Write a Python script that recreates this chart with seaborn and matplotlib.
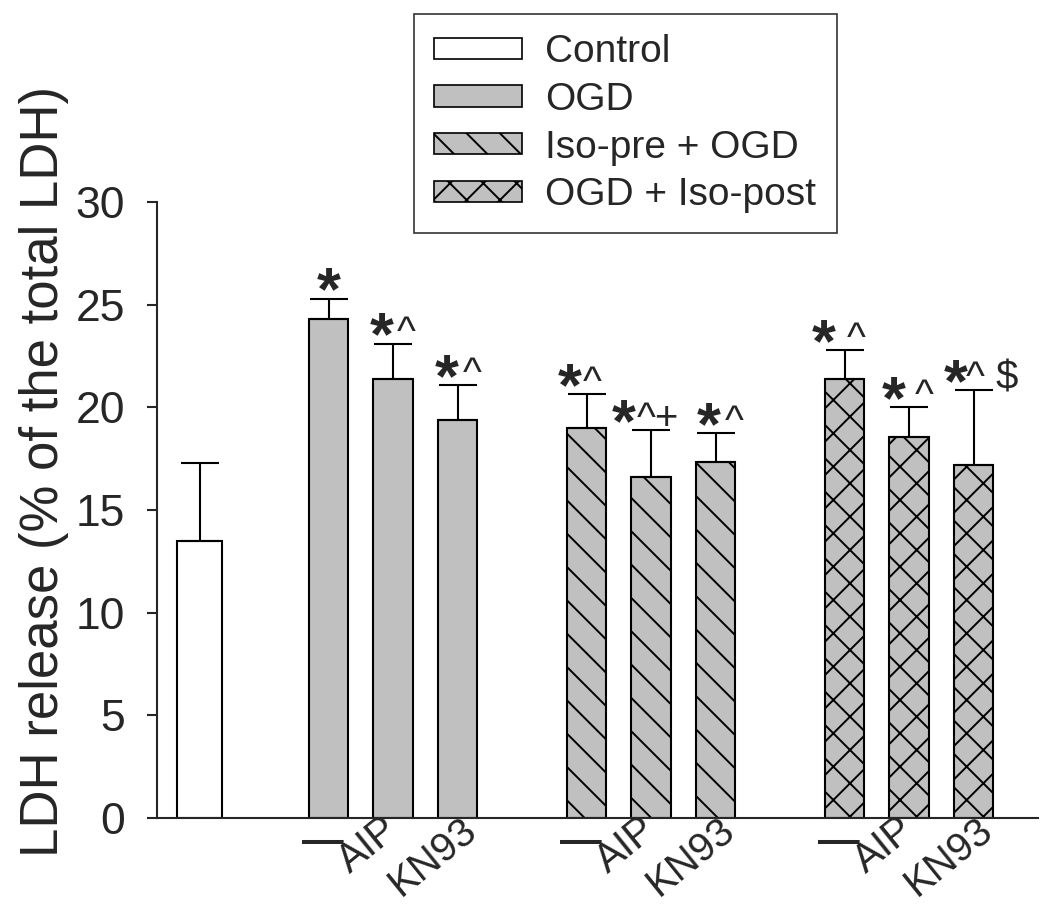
import numpy as np
import pandas as pd
import matplotlib
matplotlib.use('Agg')
import matplotlib.pyplot as plt
from matplotlib.patches import Patch
from matplotlib.transforms import ScaledTranslation
import seaborn as sns

# data
groups = ['Control',
          'OGD', 'OGD', 'OGD',
          'Iso-pre + OGD', 'Iso-pre + OGD', 'Iso-pre + OGD',
          'OGD + Iso-post', 'OGD + Iso-post', 'OGD + Iso-post']
positions = [0, 2, 3, 4, 6, 7, 8, 10, 11, 12]
ldh = [13.5, 24.3, 21.4, 19.4, 19.0, 16.6, 17.35, 21.4, 18.55, 17.2]
sd = [3.8, 1.0, 1.7, 1.7, 1.65, 2.3, 1.4, 1.4, 1.45, 3.65]
stars = ['', '*', '*', '*', '*', '*', '*', '*', '*', '*']
suffix = ['', '', '^', '^', '^', '^+', '^', '^', '^', '^ $']
tick_pos = [2, 3, 4, 6, 7, 8, 10, 11, 12]
tick_labels = ['\u2014', 'AIP', 'KN93'] * 3

# horizontal offsets of the marks from the bar centre (pixels)
star_dx = [0, 0, -11, -11, -17, -27, -7, -21, -15, -18]
suffix_dx = [0, 0, 13, 15, 6, 7, 19, 12, 15, 19]

legend_order = ['Control', 'OGD', 'Iso-pre + OGD', 'OGD + Iso-post']
colors = {'Control': 'white', 'OGD': '#c0c0c0',
          'Iso-pre + OGD': '#c0c0c0', 'OGD + Iso-post': '#c0c0c0'}
hatches = {'Control': '', 'OGD': '', 'Iso-pre + OGD': '\\\\', 'OGD + Iso-post': 'xx'}

df = pd.DataFrame({'pos': positions, 'ldh': ldh, 'sd': sd, 'group': groups})

sns.set_style('ticks')
plt.rcParams['font.family'] = ['Liberation Sans', 'DejaVu Sans']
plt.rcParams['hatch.linewidth'] = 0.7

DPI = 200
PX = 72 / DPI  # points per pixel
fig = plt.figure(figsize=(1050 / DPI, 907 / DPI), dpi=DPI)
ax = fig.add_axes([157 / 1050, 89 / 907, (1038 - 157) / 1050, (818 - 202) / 907])

ctrl = df[df.group == 'Control']
rest = df[df.group != 'Control']
sns.barplot(data=ctrl, x='pos', y='ldh', hue='group', palette=colors, native_scale=True,
            dodge=False, width=0.71, errorbar=None, edgecolor='black', linewidth=0.75,
            legend=False, ax=ax)
sns.barplot(data=rest, x='pos', y='ldh', hue='group', palette=colors, native_scale=True,
            dodge=False, width=0.61, errorbar=None, edgecolor='black', linewidth=0.75,
            legend=False, ax=ax)

pos_arr = np.array(positions)
for p in ax.patches:
    xc = p.get_x() + p.get_width() / 2
    i = int(np.argmin(np.abs(pos_arr - xc)))
    p.set_hatch(hatches[groups[i]])
    p.set_edgecolor('black')

ax.errorbar(df.pos, df.ldh, yerr=[np.zeros(len(df)), df.sd], fmt='none', ecolor='black',
            elinewidth=0.75, capsize=6.8, capthick=0.75, zorder=5)

# significance marks
for x, y, e, s, suf, sdx, fdx in zip(positions, ldh, sd, stars, suffix, star_dx, suffix_dx):
    if s:
        ax.annotate(s, xy=(x, y + e), xytext=(sdx * PX, -11 * PX), textcoords='offset points',
                    ha='center', va='baseline', fontsize=22, fontweight='bold')
    if suf:
        ax.annotate(suf, xy=(x, y + e), xytext=(fdx * PX, 0), textcoords='offset points',
                    ha='center', va='baseline', fontsize=14.5)

ax.set_xlim(-0.66, 13.0)
ax.set_ylim(0, 30)
ax.set_yticks(range(0, 31, 5))
ax.tick_params(axis='y', labelsize=16, length=10 * PX, width=0.75, pad=22 * PX, direction='out')
ax.set_xticks(tick_pos)
ax.set_xticklabels(tick_labels)
ax.tick_params(axis='x', length=0, labelsize=14.5, pad=0)
for lab in ax.get_xticklabels():
    if lab.get_text() == '\u2014':
        lab.set_fontsize(15)
        lab.set_fontweight('bold')
        lab.set_transform(lab.get_transform() + ScaledTranslation(-6 / DPI, -4 / DPI, fig.dpi_scale_trans))
    else:
        lab.set_rotation(39)
        lab.set_ha('center')
        lab.set_transform(lab.get_transform() + ScaledTranslation(-25 / DPI, 8 / DPI, fig.dpi_scale_trans))
ax.set_xlabel('')
ax.set_ylabel('LDH release (% of the total LDH)', fontsize=19)
ax.yaxis.set_label_coords(-0.10, 0.562)
for side in ['left', 'bottom']:
    ax.spines[side].set_linewidth(0.75)
sns.despine(ax=ax)

handles = [Patch(facecolor=colors[g], edgecolor='black', hatch=hatches[g], linewidth=0.6, label=g)
           for g in legend_order]
leg = fig.legend(handles=handles, loc='upper left', bbox_to_anchor=(414 / 1050, 1 - 14 / 907),
                 fontsize=14, frameon=True, fancybox=False, handlelength=2.26, handleheight=0.46,
                 handletextpad=0.6, labelspacing=0.3, borderpad=0.52, borderaxespad=0)
leg.get_frame().set_edgecolor('black')
leg.get_frame().set_linewidth(0.6)

fig.savefig('out.png', dpi=DPI)
